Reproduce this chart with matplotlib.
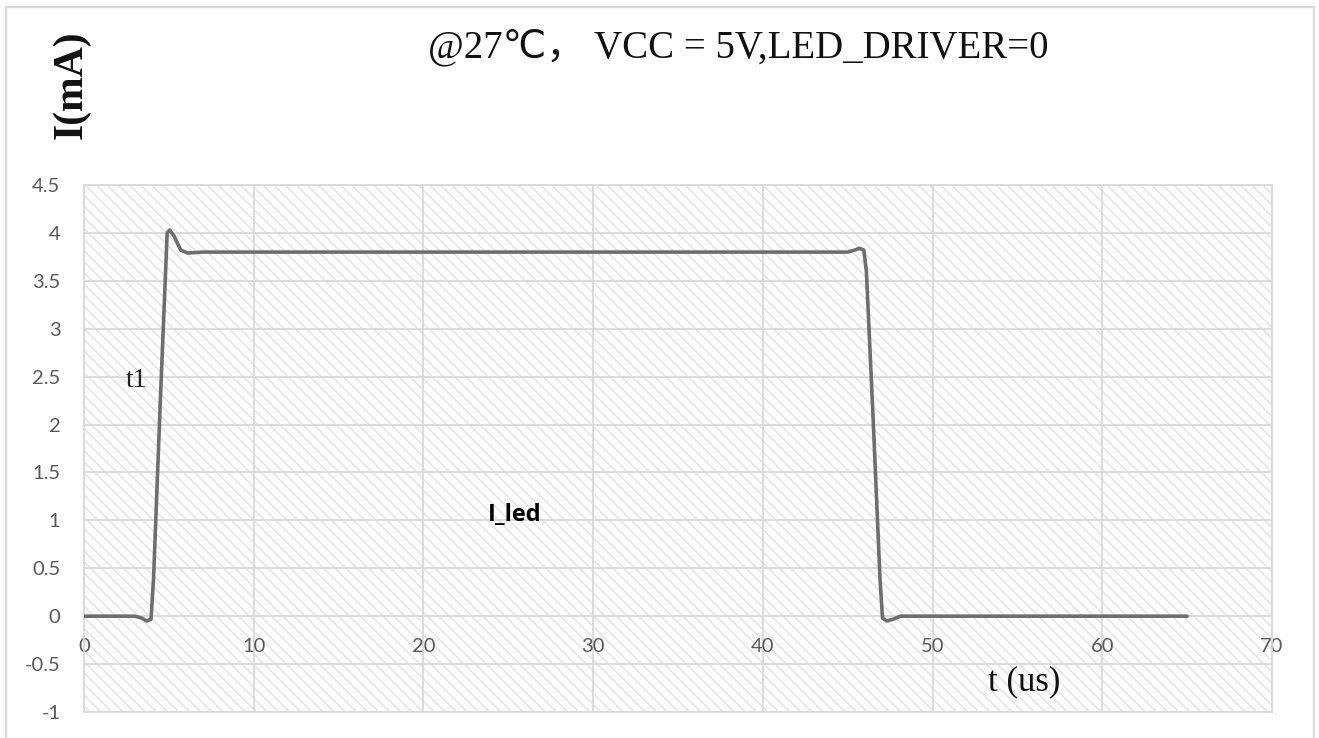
import matplotlib
matplotlib.use("Agg")
import matplotlib.pyplot as plt
from matplotlib.patches import Rectangle

# LED current waveform (t in us, I in mA)
time_us = [0, 2.5, 3.0, 3.4, 3.7, 3.95, 4.1, 4.5, 4.9, 5.05, 5.3, 5.7, 6.1, 7.0,
           45.0, 45.4, 45.7, 45.95, 46.1, 46.5, 46.9, 47.05, 47.3, 47.7, 48.1, 65.0]
i_led_ma = [0, 0, 0, -0.02, -0.05, -0.03, 0.4, 2.26, 4.0, 4.03, 3.97, 3.82, 3.79, 3.8,
            3.8, 3.82, 3.84, 3.82, 3.6, 2.05, 0.4, -0.02, -0.05, -0.03, 0, 0]

x_ticks = [0, 10, 20, 30, 40, 50, 60, 70]
y_ticks = [-1, -0.5, 0, 0.5, 1, 1.5, 2, 2.5, 3, 3.5, 4, 4.5]
y_tick_labels = ["-1", "-0.5", "0", "0.5", "1", "1.5", "2", "2.5", "3", "3.5", "4", "4.5"]

TITLE = "@27℃， VCC = 5V,LED_DRIVER=0"
GRID = "#d9d9d9"
TICK = "#595959"

plt.rcParams["hatch.linewidth"] = 1.0

fig = plt.figure(figsize=(13.19, 7.38), dpi=100)
W, H = 1319, 738

# chart-area frame
fig.patches.append(Rectangle((6 / W, -0.05), (1314 - 6) / W, 1.05 - 7 / H,
                             transform=fig.transFigure, fill=False,
                             edgecolor=GRID, linewidth=1.6))

ax = fig.add_axes([84 / W, (H - 712) / H, (1272 - 84) / W, (712 - 185) / H])
ax.set_xlim(0, 70)
ax.set_ylim(-1, 4.5)

# diagonal-hatched plot area
ax.add_patch(Rectangle((0, 0), 1, 1, transform=ax.transAxes, facecolor="white",
                       edgecolor="#e2e2e2", hatch="\\\\\\", linewidth=0, zorder=0))

ax.set_xticks(x_ticks)
ax.set_yticks(y_ticks)
ax.set_yticklabels(y_tick_labels)
ax.grid(True, color=GRID, linewidth=1.3, zorder=1)
ax.set_axisbelow(True)

for side in ["top", "right", "left", "bottom"]:
    ax.spines[side].set_visible(False)
# horizontal axis crosses at 0
ax.spines["bottom"].set_position(("data", 0))
ax.tick_params(axis="both", length=0, labelsize=14.5, labelcolor=TICK)
ax.tick_params(axis="y", pad=17)
ax.tick_params(axis="x", pad=16)
for lab in ax.get_xticklabels() + ax.get_yticklabels():
    lab.set_family("Lato")

# frame edges of the plot area drawn like gridlines
for y in (4.5, -1):
    ax.axhline(y, color=GRID, linewidth=1.3, zorder=1, clip_on=False)
for x in (0, 70):
    ax.axvline(x, color=GRID, linewidth=1.3, zorder=1, clip_on=False)

ax.plot(time_us, i_led_ma, color="#6e6e6e", linewidth=2.6, zorder=3,
        solid_joinstyle="round", solid_capstyle="round")

ax.text(25.4, 1.06, "I_led", family="Open Sans", fontweight="bold", fontsize=17,
        ha="center", va="center", zorder=4)
ax.text(3.1, 2.46, "t1", family="Liberation Serif", fontsize=20,
        ha="center", va="center", color="#222222", zorder=4)
ax.text(55.4, -0.69, "t (us)", family="Liberation Serif", fontsize=25,
        ha="center", va="center", color="#111111", zorder=4)

fig.text(738 / W, 1 - 48 / H, TITLE, family=["Liberation Serif", "DejaVu Sans", "Noto Sans CJK SC"],
         fontsize=28, ha="center", va="center", color="#111111")
fig.text(71 / W, 1 - 85 / H, "I(mA)", family="Liberation Serif", fontweight="bold",
         fontsize=30, rotation=90, ha="center", va="center", color="#111111")

fig.savefig("out.png", dpi=100)
